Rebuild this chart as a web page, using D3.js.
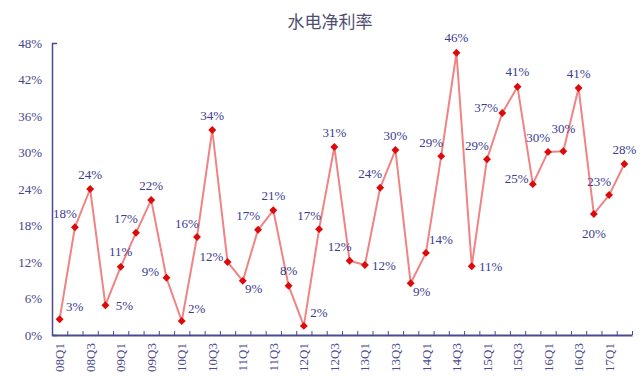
<!DOCTYPE html>
<html>
<head>
<meta charset="utf-8">
<script src="https://cdn.jsdelivr.net/npm/d3@7"></script>
<style>
  body { margin: 0; background: #fff; }
  svg { display: block; }
</style>
</head>
<body>
<svg id="chart" width="643" height="378"></svg>
<script>
// quarters 08Q1 .. 17Q2
const quarters = [];
for (let yr = 8; yr <= 17; yr++) {
  for (let q = 1; q <= 4; q++) {
    if (yr === 17 && q > 2) break;
    quarters.push(String(yr).padStart(2, "0") + "Q" + q);
  }
}
// net margin (%)
const margin_pct = [2.6, 17.7, 24.0, 4.9, 11.2, 16.8, 22.2, 9.4, 2.3, 16.1,
  33.7, 12.0, 8.9, 17.3, 20.5, 8.1, 1.5, 17.4, 30.9, 12.2,
  11.5, 24.2, 30.4, 8.5, 13.5, 29.4, 46.4, 11.3, 28.9, 36.5,
  40.8, 24.8, 30.1, 30.2, 40.6, 19.9, 23.0, 28.1];
// printed labels
const labelText = [3, 18, 24, 5, 11, 17, 22, 9, 2, 16,
  34, 12, 9, 17, 21, 8, 2, 17, 31, 12,
  12, 24, 30, 9, 14, 29, 46, 11, 29, 37,
  41, 25, 30, 30, 41, 20, 23, 28];
// where each label sits around its point
const labelSide = ["TR", "TL", "T", "R", "T", "TL", "T", "L", "TR", "TL",
  "T", "L", "BR", "TL", "T", "T", "TR", "TL", "T", "TL",
  "R", "TL", "T", "BR", "TR", "TL", "T", "R", "TL", "L",
  "T", "L", "TL", "TT", "T", "B", "TL", "T"];
const yTicks = [0, 6, 12, 18, 24, 30, 36, 42, 48];

const sideOffset = {
  T: [0, -15], TT: [0, -23], TL: [-10, -14], TR: [15, -13],
  L: [-16, -6], R: [19, 0], BR: [11, 8], B: [0, 20]
};

const margin = { top: 43, right: 11, bottom: 43, left: 52 };
const width = 643 - margin.left - margin.right;
const height = 378 - margin.top - margin.bottom;
const navy = "#3b3b8f";
const serif = "'Liberation Serif', 'DejaVu Serif', serif";

const svg = d3.select("#chart");

svg.append("text")
  .attr("x", 330)
  .attr("y", 28)
  .attr("text-anchor", "middle")
  .style("font-family", "'Noto Sans CJK SC', sans-serif")
  .style("font-size", "17px")
  .style("fill", "#4f4f72")
  .text("水电净利率");

const g = svg.append("g")
  .attr("transform", `translate(${ margin.left }, ${ margin.top })`);

const x = d3.scaleBand()
  .domain(quarters)
  .range([0, width]);

const y = d3.scaleLinear()
  .domain([0, 48])
  .range([height, 0]);

// y axis
const yAxis = g.append("g")
  .call(d3.axisLeft(y)
    .tickValues(yTicks)
    .tickFormat(d => d + "%")
    .tickSizeInner(0)
    .tickSizeOuter(-5)
    .tickPadding(10));
yAxis.select(".domain").attr("stroke", "#4a4a90").attr("stroke-width", 1.5);
yAxis.selectAll("text")
  .style("font-family", serif)
  .style("font-size", "13px")
  .style("fill", "#46468a");

// x axis: tick marks between quarters
const xEdge = d3.scaleLinear().domain([0, quarters.length]).range([0, width]);
const xTickAxis = g.append("g")
  .attr("transform", `translate(0, ${ height })`)
  .call(d3.axisBottom(xEdge)
    .tickValues(d3.range(quarters.length + 1))
    .tickFormat("")
    .tickSizeInner(-4)
    .tickSizeOuter(0));
xTickAxis.select(".domain").attr("stroke", "#4a4a90").attr("stroke-width", 2);
xTickAxis.selectAll(".tick line").attr("stroke", "#4a4a90");

// x labels, every other quarter, rotated
const xLabelAxis = g.append("g")
  .attr("transform", `translate(0, ${ height })`)
  .call(d3.axisBottom(x)
    .tickValues(quarters.filter((d, i) => i % 2 === 0))
    .tickSize(0));
xLabelAxis.select(".domain").remove();
xLabelAxis.selectAll("text")
  .attr("transform", "rotate(-90)")
  .attr("text-anchor", "end")
  .attr("x", -8)
  .attr("y", 0)
  .attr("dy", "0.35em")
  .style("font-family", serif)
  .style("font-size", "13px")
  .style("fill", "#4a4a8c");

const cx = i => x(quarters[i]) + x.bandwidth() / 2;

// line
const line = d3.line()
  .x((d, i) => cx(i))
  .y(d => y(d));

g.append("path")
  .datum(margin_pct)
  .attr("fill", "none")
  .attr("stroke", "#f08484")
  .attr("stroke-width", 2)
  .attr("stroke-linejoin", "round")
  .attr("d", line);

// diamond markers
const diamond = d3.symbol().type(d3.symbolDiamond2).size(40);
g.selectAll(".pt")
  .data(margin_pct)
  .enter()
  .append("path")
  .attr("class", "pt")
  .attr("transform", (d, i) => `translate(${ cx(i) }, ${ y(d) })`)
  .attr("d", diamond)
  .attr("fill", "#dc0a0a");

// value labels
g.selectAll(".lbl")
  .data(margin_pct)
  .enter()
  .append("text")
  .attr("class", "lbl")
  .attr("x", (d, i) => cx(i) + sideOffset[labelSide[i]][0])
  .attr("y", (d, i) => y(d) + sideOffset[labelSide[i]][1])
  .attr("dy", "0.35em")
  .attr("text-anchor", "middle")
  .style("font-family", serif)
  .style("font-size", "13px")
  .style("fill", navy)
  .text((d, i) => labelText[i] + "%");
</script>
</body>
</html>
